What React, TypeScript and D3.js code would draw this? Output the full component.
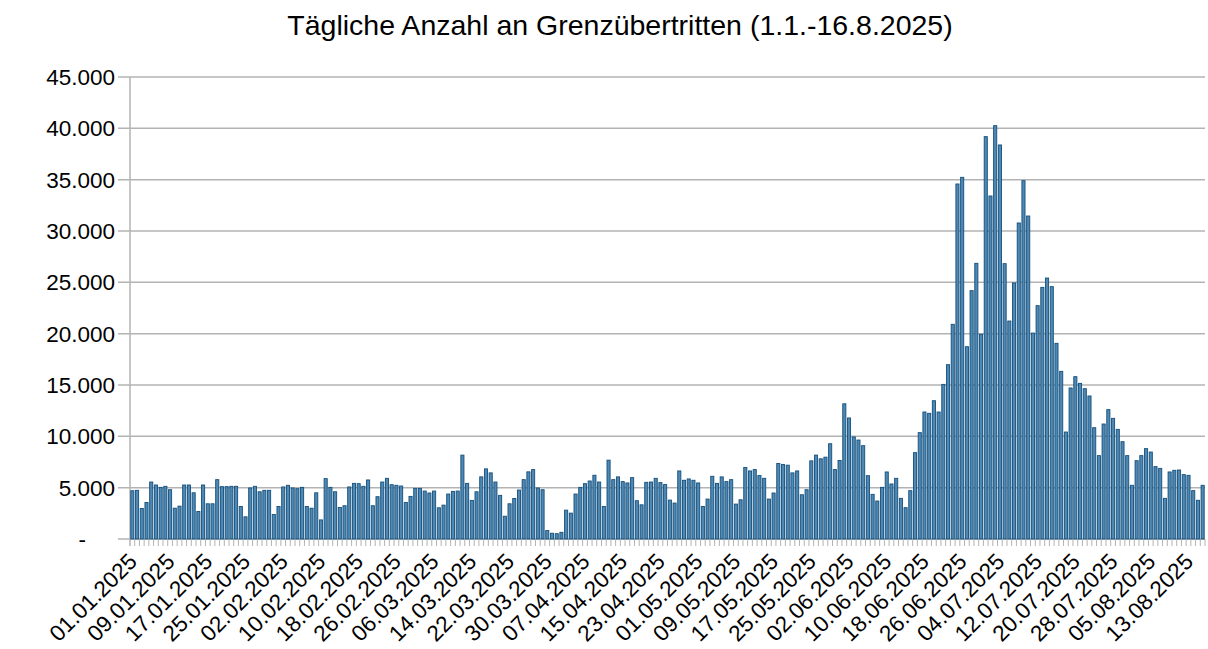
import * as d3 from "d3";
import React from "react";

// daily counts, 01.01.2025 - 16.08.2025
const janFeb = [
  4700, 4740, 2970, 3560, 5550, 5260, 5030, 5130, 4800, 3000, 3200, 5260, 5260, 4500, 2680, 5260, 3430, 3430, 5780,
  5100, 5100, 5130, 5130, 3170, 2160, 4970, 5130, 4600, 4740, 4740, 2390, 3170, 5070, 5230, 4970, 4900, 5030, 3170,
];
const febMar = [
  3000, 4500, 1860, 5880, 5030, 4600, 3070, 3240, 5070, 5420, 5390, 5130, 5750, 3240, 4120, 5550, 5910, 5290, 5230,
  5160, 3560, 4150, 4930, 4930, 4670, 4480, 4670, 3040, 3300, 4380, 4640, 4670, 8170, 5420, 3760, 4600, 6050, 6830,
];
const marApr = [
  6440, 5550, 4250, 2220, 3430, 3950, 4770, 5780, 6540, 6760, 4970, 4800, 820, 560, 520, 650, 2810, 2520, 4380,
  5030, 5390, 5650, 6210, 5550, 3170, 7680, 5780, 6050, 5590, 5460, 5980, 3730, 3330, 5520, 5550, 5910, 5490, 5300,
];
const aprJun = [
  3790, 3500, 6630, 5720, 5850, 5720, 5460, 3170, 3890, 6110, 5420, 6050, 5590, 5780, 3400, 3820, 6960, 6630, 6760,
  6180, 5910, 3890, 4480, 7350, 7250, 7190, 6440, 6630, 4310, 4800, 7610, 8170, 7810, 7970, 9280, 6760, 7650, 13170,
];
const junJul = [
  11790, 9940, 9640, 9090, 6170, 4350, 3700, 5030, 6530, 5360, 5910, 3960, 3050, 4710, 8410, 10360, 12370, 12240,
  13470, 12370, 15060, 16980, 20910, 34580, 35230, 18730, 24190, 26850, 19940, 39190, 33410, 40260, 38380, 26820,
  21230, 24940, 30780, 34900, 31460,
];
const julAug = [
  20060, 22730, 24510, 25420, 24580, 19060, 16330, 10420, 14710, 15810, 15160, 14640, 13930, 10840, 8120, 11200,
  12600, 11750, 10680, 9480, 8120, 5230, 7630, 8120, 8800, 8470, 7050, 6880, 3960, 6530, 6690, 6720, 6270, 6200,
  4710, 3770, 5230,
];

const values = [...janFeb, ...febMar, ...marApr, ...aprJun, ...junJul, ...julAug];
const yTicks = [0, 5000, 10000, 15000, 20000, 25000, 30000, 35000, 40000, 45000];
const labelEvery = 8;
const title = "Tägliche Anzahl an Grenzübertritten (1.1.-16.8.2025)";

const days = values.map((_, i) => d3.timeDay.offset(new Date(2025, 0, 1), i));
const fmtDate = d3.timeFormat("%d.%m.%Y");
const de = d3.formatLocale({ decimal: ",", thousands: ".", grouping: [3], currency: ["", " €"] });
const fmtNum = de.format(",");

export default function App() {
  const width = 1208;
  const height = 649;
  const marginLeft = 130;
  const marginRight = 3;
  const marginTop = 77;
  const plotBottom = 539;
  const font = "'Liberation Sans', Arial, sans-serif";

  const x = d3
    .scaleBand<number>()
    .domain(d3.range(values.length))
    .range([marginLeft, width - marginRight])
    .paddingInner(0.34)
    .paddingOuter(0.17);

  const y = d3.scaleLinear().domain([0, 45000]).range([plotBottom, marginTop]);
  const step = x.step();

  return (
    <svg
      width={width}
      height={height}
      style={{ position: "absolute", left: 0, top: 0, background: "#fff" }}
    >
      <text x={620} y={35} textAnchor="middle" fontFamily={font} fontSize={28.5} fill="#000">
        {title}
      </text>

      {/* grid */}
      <g stroke="#b3b3b3" strokeWidth={1.5}>
        {yTicks.map((t) => (
          <line key={t} x1={118} x2={width - marginRight} y1={y(t)} y2={y(t)} />
        ))}
        <line x1={marginLeft} x2={marginLeft} y1={marginTop} y2={plotBottom + 7} />
      </g>

      {/* y labels */}
      <g fontFamily={font} fontSize={22.5} fill="#000">
        {yTicks.map((t) => (
          <text key={t} x={t === 0 ? 86 : 115} y={y(t)} dy="0.36em" textAnchor="end">
            {t === 0 ? "-" : fmtNum(t)}
          </text>
        ))}
      </g>

      {/* day ticks */}
      <g stroke="#b3b3b3" strokeWidth={1}>
        {values.map((_, i) => {
          const cx = marginLeft + step * (i + 1);
          return <line key={i} x1={cx} x2={cx} y1={plotBottom} y2={plotBottom + 7} />;
        })}
      </g>

      {/* bars */}
      <g fill="#4f88b2" stroke="#134f7c" strokeWidth={0.9}>
        {values.map((v, i) => (
          <rect key={i} x={x(i)} y={y(v)} width={x.bandwidth()} height={plotBottom - y(v)} />
        ))}
      </g>

      {/* x labels */}
      <g fontFamily={font} fontSize={22.5} fill="#000">
        {days.map((d, i) =>
          i % labelEvery === 0 ? (
            <text
              key={i}
              textAnchor="end"
              transform={`translate(${x(i)! + x.bandwidth() / 2 + 6},${plotBottom + 24}) rotate(-45)`}
            >
              {fmtDate(d)}
            </text>
          ) : null
        )}
      </g>
    </svg>
  );
}
